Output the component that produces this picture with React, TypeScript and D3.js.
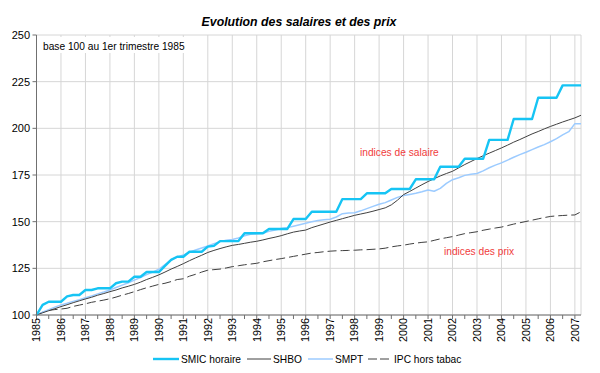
import React from 'react';
import * as d3 from 'd3';

// quarterly values, 1985 Q1 -> 2007 Q2 (base 100 = 1985 Q1)
const years = d3.range(1985, 2008);
const smic = [
  100, 105.4, 107.1, 107.1,
  107.1, 110, 110.7, 110.7,
  113.4, 113.4, 114.3, 114.3,
  114.3, 117, 117.9, 117.9,
  120.5, 120.5, 123, 123,
  123, 126.3, 129.5, 131.2,
  131.2, 133.9, 133.9, 133.9,
  136.6, 137, 139.6, 139.6,
  139.6, 139.6, 143.8, 143.8,
  143.8, 143.8, 146.1, 146.1,
  146.1, 146.1, 151.4, 151.4,
  151.4, 155.3, 155.3, 155.3,
  155.3, 155.3, 162.1, 162.1,
  162.1, 162.1, 165.2, 165.2,
  165.2, 165.2, 167.5, 167.5,
  167.5, 167.5, 172.7, 172.7,
  172.7, 172.7, 179.4, 179.4,
  179.4, 179.4, 183.7, 183.7,
  183.7, 183.7, 193.8, 193.8,
  193.8, 193.8, 205, 205,
  205, 205, 216.4, 216.4,
  216.4, 216.4, 223, 223,
  223, 223,
];
const shbo = [
  100, 101.2, 102.3, 103.4,
  104.5, 105.5, 106.6, 107.6,
  108.6, 109.5, 110.6, 111.5,
  112.5, 113.4, 114.5, 115.4,
  116.4, 117.6, 119, 120.2,
  121.5, 123, 124.6, 126,
  127.5, 129.1, 130.6, 132,
  133.5, 134.6, 135.6, 136.5,
  137.3, 137.8, 138.4, 139,
  139.5, 140.2, 141, 141.7,
  142.5, 143.5, 144.4, 145,
  145.5, 146.8, 147.8, 148.8,
  149.8, 150.7, 151.6, 152.5,
  153.4, 154.1, 154.8, 155.6,
  156.5, 157.4, 159, 161.5,
  164.5, 166.2, 168, 169.8,
  171.5, 173, 174.5, 175.8,
  177, 178.8, 180.6, 182.2,
  183.8, 185.3, 186.7, 188.1,
  189.5, 191, 192.6, 194,
  195.5, 197, 198.3, 199.7,
  201, 202.2, 203.4, 204.5,
  205.6, 207,
];
const smpt = [
  100, 101.5, 102.9, 104.2,
  105.4, 106.3, 107.3, 108.2,
  109.2, 110.2, 111.3, 112.3,
  113.4, 114.7, 116, 117.3,
  118.7, 120.1, 121.6, 123,
  124.5, 127, 129.6, 131,
  132.1, 133.6, 134.8, 135.9,
  137, 138.2, 139.3, 140,
  140.5, 141.3, 142.4, 143.2,
  143.5, 143.8, 144.8, 145.5,
  146.3, 146.8, 147.6, 148.4,
  149.2, 149.9, 150.6, 151,
  151.3, 152.5, 154.3, 154.6,
  154.8, 155.8, 157, 158.2,
  159.3, 160.2, 161.6, 163,
  164, 164.6, 165.2, 166,
  167, 166.3, 167.8, 170.5,
  172.5, 173.5, 174.8, 175.4,
  175.8, 177.2, 178.9, 180.3,
  181.5, 183, 184.5, 185.9,
  187.2, 188.6, 190, 191.3,
  192.8, 194.5, 196.5, 198.2,
  202.5, 202.5,
];
const ipc = [
  100, 101.5, 102.5, 102.9,
  103.2, 103.6, 104.6, 105.3,
  106, 106.8, 107.4, 108,
  108.7, 109.6, 110.6, 111.5,
  112.5, 113.6, 114.6, 115.5,
  116.4, 117, 117.9, 119,
  119.4, 120.8, 121.8, 123,
  124, 124.3, 124.6, 125.2,
  125.9, 126.4, 126.9, 127.3,
  127.7, 128.5, 129.1, 129.7,
  130.2, 130.8, 131.4, 132,
  132.6, 133.2, 133.5, 133.9,
  134.2, 134.4, 134.5, 134.6,
  134.7, 134.9, 135, 135.2,
  135.4, 135.8, 136.5, 137,
  137.4, 138, 138.5, 138.9,
  139.2, 140, 140.8, 141.4,
  142, 142.8, 143.6, 144.1,
  144.6, 145.4, 146, 146.6,
  147.1, 147.9, 148.7, 149.4,
  150.1, 150.8, 151.5, 152.2,
  152.8, 153.1, 153.3, 153.5,
  153.6, 155.3,
];
const yTicks = [100, 125, 150, 175, 200, 225, 250];

const font = '"Liberation Sans", Arial, sans-serif';

const App: React.FC = () => {
  const W = 600, H = 373;
  const left = 36.5, right = 581, top = 35, bottom = 315;

  const x = d3.scaleLinear().domain([1985, 2007.25]).range([left, right]);
  const y = d3.scaleLinear().domain([100, 250]).range([bottom, top]);

  const line = d3.line<number>()
    .x((_, i) => x(1985 + i / 4))
    .y(d => y(d));

  const halfYears = d3.range(1985, 2007.3, 0.5);

  const series = [
    { name: 'SMIC horaire', data: smic, color: '#16c4f4', width: 2.4, dash: undefined },
    { name: 'SHBO', data: shbo, color: '#404040', width: 1, dash: undefined },
    { name: 'SMPT', data: smpt, color: '#9ccbff', width: 1.5, dash: undefined },
    { name: 'IPC hors tabac', data: ipc, color: '#404040', width: 1, dash: '9,4' },
  ];
  // draw order: SMPT under SHBO, SMIC on top
  const drawOrder = [series[3], series[2], series[1], series[0]];

  const legend = [
    { s: series[0], x0: 153, x1: 179, tx: 181 },
    { s: series[1], x0: 247, x1: 271, tx: 273 },
    { s: series[2], x0: 308, x1: 333, tx: 335 },
    { s: series[3], x0: 368, x1: 392, tx: 394 },
  ];

  return (
    <svg width={W} height={H} style={{ position: 'absolute', left: 0, top: 0 }} fontFamily={font}>
      <rect width={W} height={H} fill="#fff" />
      <text x={299} y={26} textAnchor="middle" fontSize={12.3} fontWeight="bold" fontStyle="italic" fill="#000">
        Evolution des salaires et des prix
      </text>

      {/* grid */}
      {yTicks.map(t => (
        <line key={'gy' + t} x1={left} x2={right} y1={y(t)} y2={y(t)} stroke="#d6d6d6" strokeWidth={1} />
      ))}
      {years.slice(1).map(yr => (
        <line key={'gx' + yr} x1={x(yr)} x2={x(yr)} y1={top} y2={bottom} stroke="#d6d6d6" strokeWidth={1} />
      ))}
      <line x1={right} x2={right} y1={top} y2={bottom} stroke="#d6d6d6" strokeWidth={1} />

      {/* note box */}
      <rect x={40} y={37} width={148} height={16} fill="#fff" />
      <text x={43} y={50} fontSize={10.2} fill="#000">base 100 au 1er trimestre 1985</text>

      {/* series */}
      {drawOrder.map(s => (
        <path key={s.name} d={line(s.data) ?? ''} fill="none" stroke={s.color}
          strokeWidth={s.width} strokeDasharray={s.dash} strokeLinejoin="round" />
      ))}

      <text x={360} y={156} fontSize={10.2} fill="#f03c3c">indices de salaire</text>
      <text x={444} y={255} fontSize={10.2} fill="#f03c3c">indices des prix</text>

      {/* axes */}
      <line x1={left} x2={left} y1={top} y2={bottom} stroke="#707070" strokeWidth={1} />
      <line x1={left} x2={right} y1={bottom} y2={bottom} stroke="#707070" strokeWidth={1} />
      {yTicks.map(t => (
        <g key={'ty' + t}>
          <line x1={left - 4} x2={left} y1={y(t)} y2={y(t)} stroke="#707070" />
          <text x={30} y={y(t)} dy="0.35em" textAnchor="end" fontSize={11} fill="#000">{t}</text>
        </g>
      ))}
      {halfYears.map(t => (
        <line key={'tx' + t} x1={x(t)} x2={x(t)} y1={bottom} y2={bottom + 4} stroke="#707070" />
      ))}
      {years.map(yr => (
        <text key={'lx' + yr} transform={`translate(${x(yr)},${bottom + 3}) rotate(-90)`}
          dy="0.35em" textAnchor="end" fontSize={10.8} fill="#000">{yr}</text>
      ))}

      {/* legend */}
      {legend.map(l => (
        <g key={'lg' + l.s.name}>
          <line x1={l.x0} x2={l.x1} y1={359} y2={359} stroke={l.s.color}
            strokeWidth={l.s.width} strokeDasharray={l.s.dash ? '9,3' : undefined} />
          <text x={l.tx} y={363} fontSize={10.2} fill="#000">{l.s.name}</text>
        </g>
      ))}
    </svg>
  );
};

export default App;
